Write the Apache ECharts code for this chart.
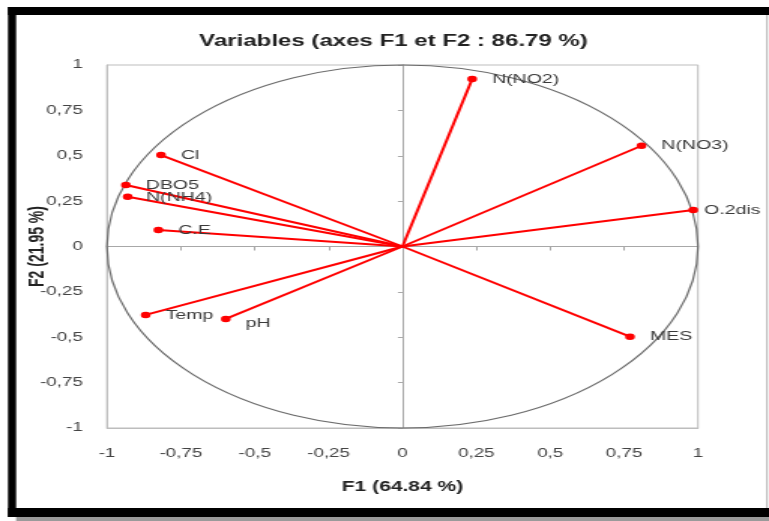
<!DOCTYPE html>
<html>
<head>
<meta charset="utf-8">
<script src="https://cdn.jsdelivr.net/npm/echarts@6/dist/echarts.min.js"></script>
<style>
  html, body { margin: 0; padding: 0; background: #fff; overflow: hidden; }
  /* the reference picture is stretched horizontally, so draw narrow and stretch */
  #main { width: 512px; height: 521px; transform: scaleX(1.50195); transform-origin: 0 0; }
</style>
</head>
<body>
<div id="main"></div>
<script>
// variable names and their coordinates on F1 / F2
var names = ['N(NO2)', 'N(NO3)', 'O.2dis', 'MES', 'Cl', 'DBO5', 'N(NH4)', 'C.E', 'Temp', 'pH'];
var f1 = [0.236, 0.809, 0.984, 0.770, -0.817, -0.936, -0.930, -0.826, -0.869, -0.598];
var f2 = [0.923, 0.555, 0.201, -0.497, 0.504, 0.339, 0.274, 0.091, -0.377, -0.399];

// label offsets (style only)
var labelOffset = {
  'O.2dis': [-6, 0],
  'pH': [0, 5],
  'N(NH4)': [-1, 1]
};

var myChart = echarts.init(document.getElementById('main'));

var fmt = function (v) { return String(v).replace('.', ','); };

var series = [];

// correlation circle
series.push({
  type: 'custom',
  xAxisIndex: 0,
  yAxisIndex: 0,
  silent: true,
  z: 1,
  data: [[0, 0]],
  renderItem: function (params, api) {
    var c = api.coord([0, 0]);
    var rx = api.coord([1, 0])[0] - c[0];
    var ry = c[1] - api.coord([0, 1])[1];
    var d = 'M' + (c[0] - rx) + ' ' + c[1] +
      ' A' + rx + ' ' + ry + ' 0 1 0 ' + (c[0] + rx) + ' ' + c[1] +
      ' A' + rx + ' ' + ry + ' 0 1 0 ' + (c[0] - rx) + ' ' + c[1] + ' Z';
    return {
      type: 'path',
      shape: { pathData: d },
      style: { fill: 'none', stroke: '#6b6b6b', lineWidth: 1.2 }
    };
  }
});

names.forEach(function (n, i) {
  series.push({
    name: n,
    type: 'line',
    xAxisIndex: 0,
    yAxisIndex: 0,
    z: 3,
    lineStyle: { color: '#ff0000', width: 2 },
    itemStyle: { color: '#ff0000' },
    symbol: 'circle',
    symbolSize: 6.5,
    data: [
      { value: [0, 0], symbol: 'none' },
      {
        value: [f1[i], f2[i]],
        label: {
          show: true,
          position: 'right',
          distance: 10,
          offset: labelOffset[n] || [0, 0],
          formatter: n,
          color: '#3a3a3a',
          fontSize: 13,
          fontFamily: 'Liberation Sans'
        }
      }
    ]
  });
});

var option = {
  backgroundColor: '#fff',
  animation: false,
  grid: {
    left: 71.2, right: 47.3, top: 65, bottom: 93,
    outerBoundsMode: 'none',
    containLabel: false,
    show: true, borderColor: '#bdbdbd', borderWidth: 1
  },
  xAxis: [
    {
      type: 'value', min: -1, max: 1, interval: 0.25, position: 'bottom',
      name: 'F1 (64.84 %)', nameLocation: 'middle', nameGap: 52, nameMoveOverlap: false,
      nameTextStyle: { fontSize: 14, fontWeight: 'bold', color: '#222', fontFamily: 'Liberation Sans' },
      axisLine: { onZero: false, lineStyle: { color: '#bdbdbd' } },
      axisTick: { show: false },
      splitLine: { show: false },
      axisLabel: { formatter: fmt, margin: 19, color: '#444', fontSize: 12.5, fontFamily: 'Liberation Sans', showMinLabel: true, showMaxLabel: true }
    },
    {
      type: 'value', min: -1, max: 1, interval: 0.25, position: 'bottom',
      axisLine: { onZero: true, onZeroAxisIndex: 0, lineStyle: { color: '#a8a8a8' } },
      axisTick: { show: true, length: 4, lineStyle: { color: '#a8a8a8' } },
      axisLabel: { show: false },
      splitLine: { show: false }
    }
  ],
  yAxis: [
    {
      type: 'value', min: -1, max: 1, interval: 0.25, position: 'left',
      name: 'F2 (21.95 %)', nameLocation: 'middle', nameGap: 39, nameMoveOverlap: false,
      nameTextStyle: { fontSize: 14, fontWeight: 'bold', color: '#222', fontFamily: 'Liberation Sans' },
      axisLine: { onZero: false, show: true, lineStyle: { color: '#bdbdbd' } },
      axisTick: { show: false },
      splitLine: { show: false },
      axisLabel: { formatter: fmt, margin: 16, color: '#444', fontSize: 12.5, fontFamily: 'Liberation Sans' }
    },
    {
      type: 'value', min: -1, max: 1, interval: 0.25, position: 'left',
      axisLine: { show: true, onZero: true, onZeroAxisIndex: 0, lineStyle: { color: '#a8a8a8' } },
      axisTick: { show: true, length: 3, lineStyle: { color: '#a8a8a8' } },
      axisLabel: { show: false },
      splitLine: { show: false }
    }
  ],
  graphic: [
    {
      type: 'text', x: 262, y: 42, z: 10,
      style: {
        text: 'Variables (axes F1 et F2 : 86.79 %)',
        fill: '#222', font: 'bold 16px "Liberation Sans"',
        textAlign: 'center', textVerticalAlign: 'middle'
      }
    },
    { type: 'rect', shape: { x: 5.3, y: 7, width: 510, height: 8 }, style: { fill: '#000' } },
    { type: 'rect', shape: { x: 5.3, y: 7, width: 5.4, height: 510 }, style: { fill: '#000' } },
    { type: 'rect', shape: { x: 5.3, y: 508, width: 510, height: 9 }, style: { fill: '#000' } },
    { type: 'rect', shape: { x: 10.7, y: 517, width: 505, height: 4 }, style: { fill: '#9a9a9a' } },
    { type: 'line', shape: { x1: 510.7, y1: 15, x2: 510.7, y2: 508 }, style: { stroke: '#b0b0b0', lineWidth: 1 } }
  ],
  series: series
};

myChart.setOption(option);
</script>
</body>
</html>
